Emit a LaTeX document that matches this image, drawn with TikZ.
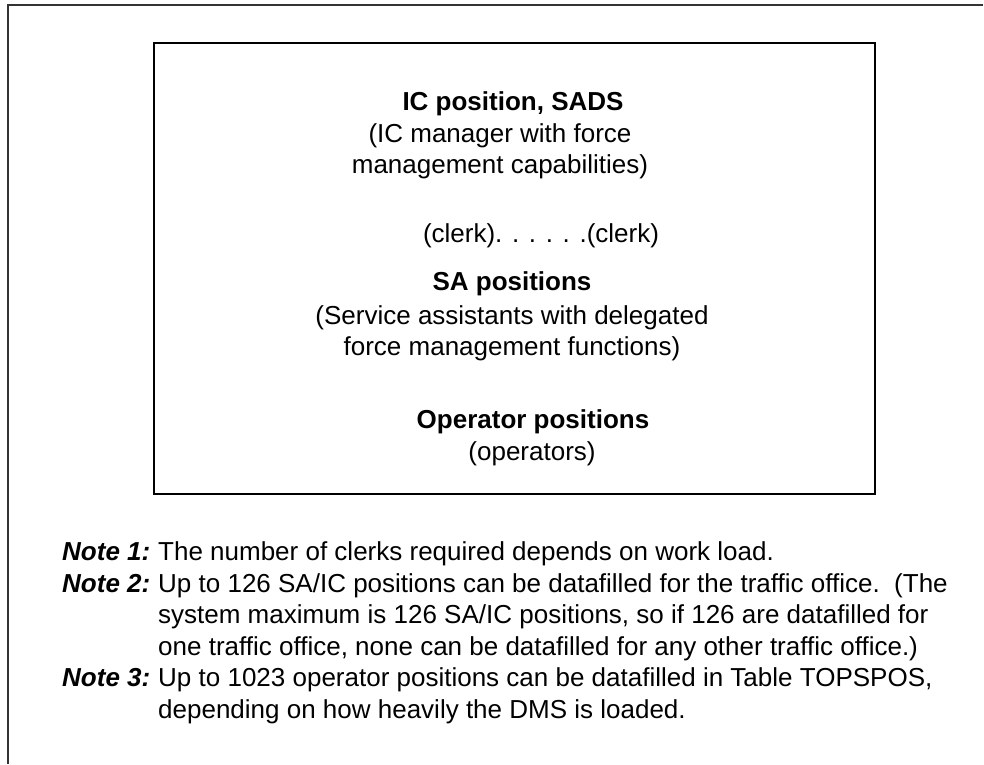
\documentclass[tikz,border=0pt]{standalone}
\usepackage{fontspec}
\setmainfont{Liberation Sans}
\begin{document}
\begin{tikzpicture}[x=1pt,y=-1pt,
  txt/.style={font=\fontsize{26}{30}\selectfont, inner sep=0pt, anchor=base},
  hd/.style={txt, font=\fontsize{26}{30}\selectfont\bfseries},
  notelbl/.style={txt, anchor=base west, font=\fontsize{26}{30}\selectfont\bfseries\itshape},
  notetxt/.style={txt, anchor=base west}]
\useasboundingbox (0,0) rectangle (984,764);
% page frame (top and left edges)
\draw[line width=1.6pt, black!80] (8,764) -- (8,5) -- (983,5);
% organisation box
\draw[line width=2.6pt] (154,43) rectangle (875,494);
\node[hd]  (ic)    at (513,110) {IC position, SADS};
\node[txt] (icm1)  at (500,142) {(IC manager with force};
\node[txt] (icm2)  at (500,173) {management capabilities)};
\node[txt] (clerk) at (541,242) {(clerk). . . . . .(clerk)};
\node[hd]  (sa)    at (512,290) {SA positions};
\node[txt] (sam1)  at (512,324) {(Service assistants with delegated};
\node[txt] (sam2)  at (512,355) {force management functions)};
\node[hd]  (op)    at (533,428) {Operator positions};
\node[txt] (ops)   at (532,460) {(operators)};
% notes
\node[notelbl] (n1) at (62,560) {Note 1:};
\node[notetxt] (t1) at (158,560) {The number of clerks required depends on work load.};
\node[notelbl] (n2) at (62,592) {Note 2:};
\node[notetxt] (t2a) at (158,592) {Up to 126 SA/IC positions can be datafilled for the traffic office.\ \ (The};
\node[notetxt] (t2b) at (158,623) {system maximum is 126 SA/IC positions, so if 126 are datafilled for};
\node[notetxt] (t2c) at (158,655) {one traffic office, none can be datafilled for any other traffic office.)};
\node[notelbl] (n3) at (62,686) {Note 3:};
\node[notetxt] (t3a) at (158,686) {Up to 1023 operator positions can be datafilled in Table TOPSPOS,};
\node[notetxt] (t3b) at (158,718) {depending on how heavily the DMS is loaded.};
\end{tikzpicture}
\end{document}
